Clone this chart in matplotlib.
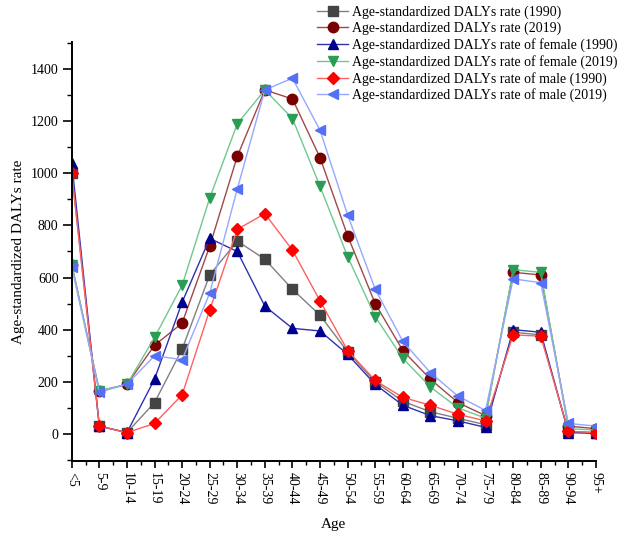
import numpy as np
import matplotlib.pyplot as plt
from matplotlib.ticker import MultipleLocator

plt.rcParams['font.family'] = ['Liberation Serif', 'DejaVu Serif']

ages = ["<5", "5-9", "10-14", "15-19", "20-24", "25-29", "30-34", "35-39", "40-44",
        "45-49", "50-54", "55-59", "60-64", "65-69", "70-74", "75-79", "80-84",
        "85-89", "90-94", "95+"]

total_1990 = [1000, 30, 5, 120, 325, 610, 740, 670, 555, 455, 315, 200, 125, 85, 60, 35, 390, 380, 10, 5]
total_2019 = [650, 165, 190, 340, 425, 720, 1065, 1320, 1285, 1060, 760, 500, 320, 210, 120, 70, 620, 610, 30, 20]
female_1990 = [1040, 30, 5, 210, 505, 750, 700, 490, 405, 395, 305, 190, 110, 70, 50, 25, 400, 390, 5, 2]
female_2019 = [650, 165, 190, 370, 570, 905, 1190, 1320, 1210, 950, 680, 450, 290, 180, 100, 60, 630, 620, 20, 15]
male_1990 = [1000, 30, 5, 40, 150, 475, 785, 845, 705, 510, 320, 205, 140, 110, 75, 50, 380, 375, 10, 5]
male_2019 = [640, 160, 190, 300, 285, 540, 940, 1320, 1365, 1165, 840, 555, 355, 235, 145, 90, 595, 580, 40, 30]

series = [
    ("Age-standardized DALYs rate (1990)", total_1990, "s", "#808080", "#444444"),
    ("Age-standardized DALYs rate (2019)", total_2019, "o", "#a04848", "#7a0000"),
    ("Age-standardized DALYs rate of female (1990)", female_1990, "^", "#3030b0", "#00008f"),
    ("Age-standardized DALYs rate of female (2019)", female_2019, "v", "#70c890", "#2a9d55"),
    ("Age-standardized DALYs rate of male (1990)", male_1990, "D", "#ff6060", "#ff0000"),
    ("Age-standardized DALYs rate of male (2019)", male_2019, "<", "#95a8ff", "#5570f5"),
]

x = np.arange(len(ages))

fig = plt.figure(figsize=(6.24, 5.4), dpi=100)
ax = fig.add_axes([0.115, 0.1463, 0.84, 0.776])

for label, vals, mk, lc, mc in series:
    ms = 6 if mk == "D" else 7.5
    ax.plot(x, vals, color=lc, lw=1.0, marker=mk, markersize=ms,
            markerfacecolor=mc, markeredgecolor=mc, label=label)

ax.set_xlim(0, len(ages) - 1)
ax.set_ylim(-104, 1504)
ax.set_xticks(x)
ax.set_xticklabels(ages, rotation=270, fontsize=10)
ax.xaxis.set_minor_locator(MultipleLocator(0.5))
ax.yaxis.set_minor_locator(MultipleLocator(100))
ax.set_yticks(np.arange(0, 1401, 200))
ax.tick_params(axis='y', which='major', direction='out', length=6.5, width=1.2, labelsize=10, pad=3)
ax.tick_params(axis='y', which='minor', direction='out', length=3.5, width=1.0)
ax.tick_params(axis='x', which='major', direction='out', length=5, width=1.2, labelsize=10, pad=3)
ax.tick_params(axis='x', which='minor', direction='out', length=3, width=1.0)
for s in ['top', 'right']:
    ax.spines[s].set_visible(False)
for s in ['left', 'bottom']:
    ax.spines[s].set_linewidth(1.4)

ax.set_xlabel("Age", fontsize=11, labelpad=10)
ax.set_ylabel("Age-standardized DALYs rate", fontsize=11, labelpad=4)

ax.legend(loc='upper left', bbox_to_anchor=(0.458, 1.10), frameon=False,
          fontsize=10, handlelength=2.2, labelspacing=0.2, handletextpad=0.3,
          borderaxespad=0)

fig.savefig("out.png", dpi=100)
